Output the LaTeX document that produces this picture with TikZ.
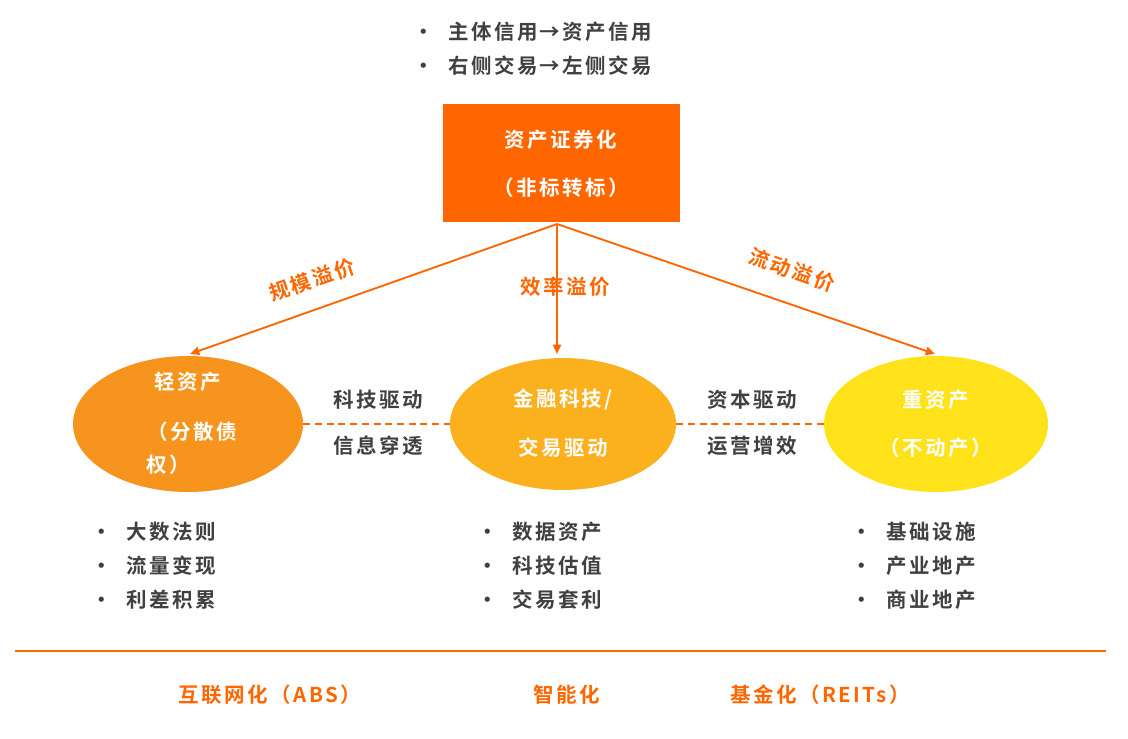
\documentclass[tikz,border=0pt]{standalone}
\usepackage{fontspec}
\setmainfont{Liberation Sans}
\newfontfamily\cjk{Noto Sans CJK SC}[BoldFont={Noto Sans CJK SC Bold},LetterSpace=12]
\usetikzlibrary{arrows.meta,shapes.geometric}
\definecolor{org}{HTML}{FF6600}
\definecolor{txt}{HTML}{404040}
\definecolor{ell1}{HTML}{F7941D}
\definecolor{ell2}{HTML}{FBB01E}
\definecolor{ell3}{HTML}{FFE21A}
\begin{document}
\begin{tikzpicture}[x=0.03cm,y=-0.03cm,
  t/.style={font=\cjk\fontsize{17.5}{19}\selectfont\bfseries,inner sep=1pt},
  dk/.style={t,text=txt},
  wt/.style={t,text=white},
  ol/.style={t,text=org},
  bl/.style={dk,anchor=west},
  arr/.style={draw=org,line width=1.6pt,-{Triangle[length=8pt,width=7pt]}},
  dsh/.style={draw=org,line width=1.6pt,dash pattern=on 6pt off 4pt}]
\useasboundingbox (0,0) rectangle (1128,739);
\node[bl] (top1) at (412,32) {•\ \ 主体信用→资产信用};
\node[bl] (top2) at (412,66) {•\ \ 右侧交易→左侧交易};
\node[fill=org,minimum width=237*0.03cm,minimum height=118*0.03cm,inner sep=0] (box) at (561,163) {};
\node[wt] (b1) at (561,140) {资产证券化};
\node[wt] (b2) at (561,188) {（非标转标）};
\node[ellipse,fill=ell1,minimum width=230*0.03cm,minimum height=136*0.03cm,inner sep=0] (e1) at (188,424) {};
\node[ellipse,fill=ell2,minimum width=226*0.03cm,minimum height=132*0.03cm,inner sep=0] (e2) at (563,424) {};
\node[ellipse,fill=ell3,minimum width=224*0.03cm,minimum height=136*0.03cm,inner sep=0] (e3) at (936,424) {};
\coordinate (src) at (557,224);
\draw[arr] (src) -- (190,354) coordinate (t1);
\draw[arr] (src) -- (557,354) coordinate (t2);
\draw[arr] (src) -- (935,354) coordinate (t3);
\node[ol,rotate=19] (l1) at (312,280) {规模溢价};
\node[ol] (l2) at (565,287) {效率溢价};
\node[ol,rotate=-19] (l3) at (792,270) {流动溢价};
\node[wt] (e1a) at (188,382) {轻资产};
\node[wt] (e1b) at (192,432) {（分散债};
\node[wt] (e1c) at (168,465) {权）};
\node[wt] (e2a) at (563,400) {金融科技/};
\node[wt] (e2b) at (563,448) {交易驱动};
\node[wt] (e3a) at (936,400) {重资产};
\node[wt] (e3b) at (936,448) {（不动产）};
\draw[dsh] (e1.east) -- (e2.west);
\draw[dsh] (e2.east) -- (e3.west);
\node[dk] (d1) at (378,400) {科技驱动};
\node[dk] (d2) at (378,446) {信息穿透};
\node[dk] (d3) at (752,400) {资本驱动};
\node[dk] (d4) at (752,446) {运营增效};
\node[bl] (p1a) at (90,532) {•\ \ 大数法则};
\node[bl] (p1b) at (90,566) {•\ \ 流量变现};
\node[bl] (p1c) at (90,600) {•\ \ 利差积累};
\node[bl] (p2a) at (476,532) {•\ \ 数据资产};
\node[bl] (p2b) at (476,566) {•\ \ 科技估值};
\node[bl] (p2c) at (476,600) {•\ \ 交易套利};
\node[bl] (p3a) at (850,532) {•\ \ 基础设施};
\node[bl] (p3b) at (850,566) {•\ \ 产业地产};
\node[bl] (p3c) at (850,600) {•\ \ 商业地产};
\coordinate (h1) at (15,651); \coordinate (h2) at (1106,651);
\draw[draw=org,line width=1.2pt] (h1) -- (h2);
\node[ol] (f1) at (270,695) {互联网化（ABS）};
\node[ol] (f2) at (567,695) {智能化};
\node[ol] (f3) at (820,695) {基金化（REITs）};
\end{tikzpicture}
\end{document}
